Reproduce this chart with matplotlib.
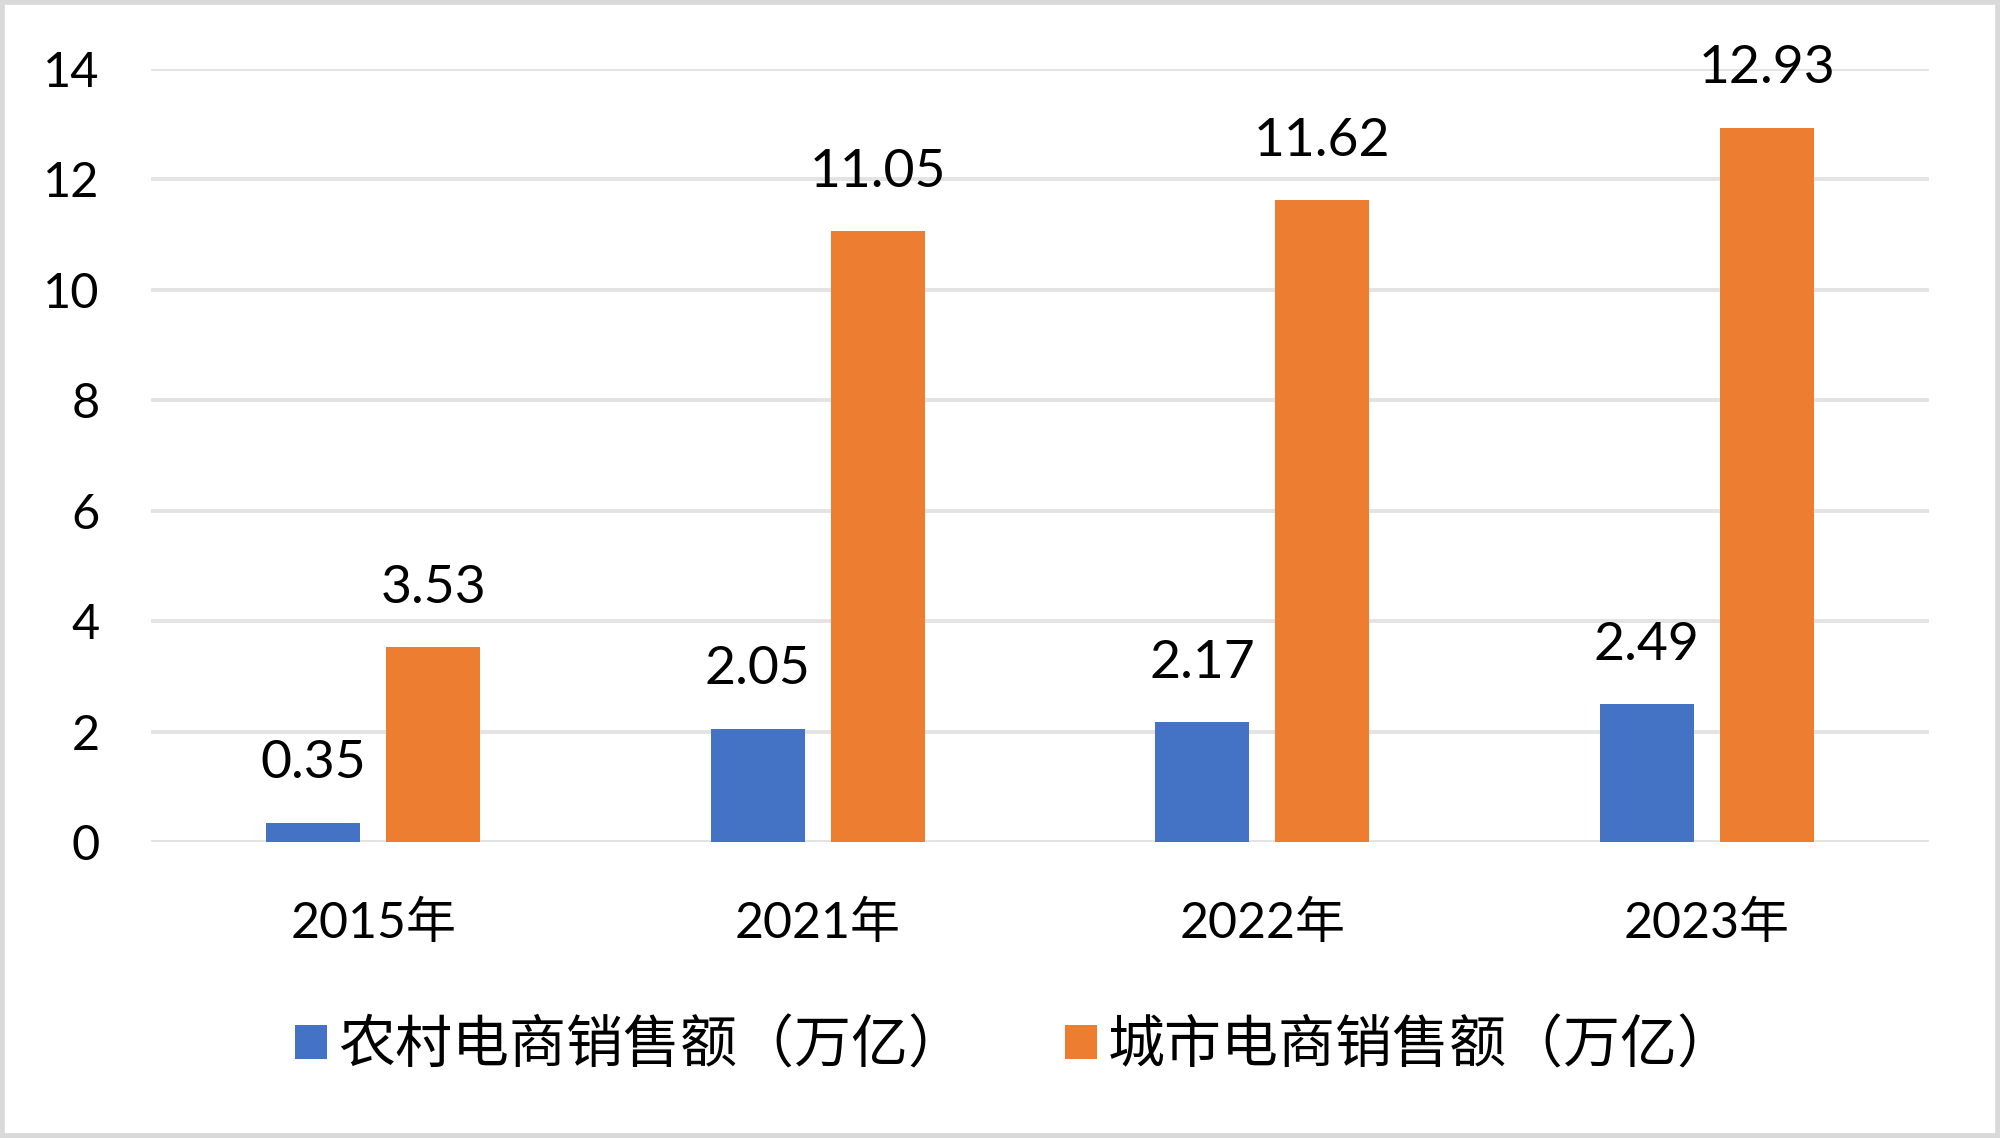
import matplotlib
matplotlib.use("Agg")
import matplotlib.pyplot as plt
from matplotlib.patches import Rectangle, Patch
import numpy as np

plt.rcParams['font.family'] = ['Lato', 'Noto Sans CJK SC', 'DejaVu Sans']

years = ["2015年", "2021年", "2022年", "2023年"]
rural = [0.35, 2.05, 2.17, 2.49]
urban = [3.53, 11.05, 11.62, 12.93]
series_names = ["农村电商销售额（万亿）", "城市电商销售额（万亿）"]
blue = '#4472C4'
orange = '#ED7D31'

fig = plt.figure(figsize=(20, 11.38), dpi=100)
ax = fig.add_axes([0.0755, 0.2601, 0.889, 0.6797])

x = np.arange(len(years))
w = 0.2115
off = 0.135
b1 = ax.bar(x - off, rural, w, color=blue, zorder=3)
b2 = ax.bar(x + off, urban, w, color=orange, zorder=3)

# value labels above bars
for bars, vals in ((b1, rural), (b2, urban)):
    for r, v in zip(bars, vals):
        ax.annotate(f"{v:.2f}", (r.get_x() + r.get_width() / 2, v),
                    xytext=(0, 32), textcoords='offset points',
                    ha='center', va='baseline', fontsize=38.5, color='black')

ax.set_xlim(-0.5, len(years) - 0.5)
ax.set_ylim(0, 14)
ax.set_yticks(range(0, 15, 2))
ax.set_xticks(x)
ax.set_xticklabels(years)
ax.tick_params(axis='y', length=0, pad=37, labelsize=35)
ax.tick_params(axis='x', length=0, pad=42, labelsize=36)
ax.yaxis.grid(True, color='#E3E3E3', linewidth=2.8, zorder=0)
for s in ax.spines.values():
    s.set_visible(False)

handles = [Patch(facecolor=blue), Patch(facecolor=orange)]
fig.legend(handles, series_names, loc='center', bbox_to_anchor=(0.5076, 0.081),
           ncol=2, frameon=False, handlelength=0.55,
           handleheight=0.55, handletextpad=0.2, columnspacing=1.76,
           prop={'family': ['Noto Sans CJK SC'], 'size': 41})

fig.patches.append(Rectangle((0, 0), 1, 1, transform=fig.transFigure,
                             fill=False, edgecolor='#D9D9D9', linewidth=7))

fig.savefig("out.png", dpi=100, facecolor='white')
